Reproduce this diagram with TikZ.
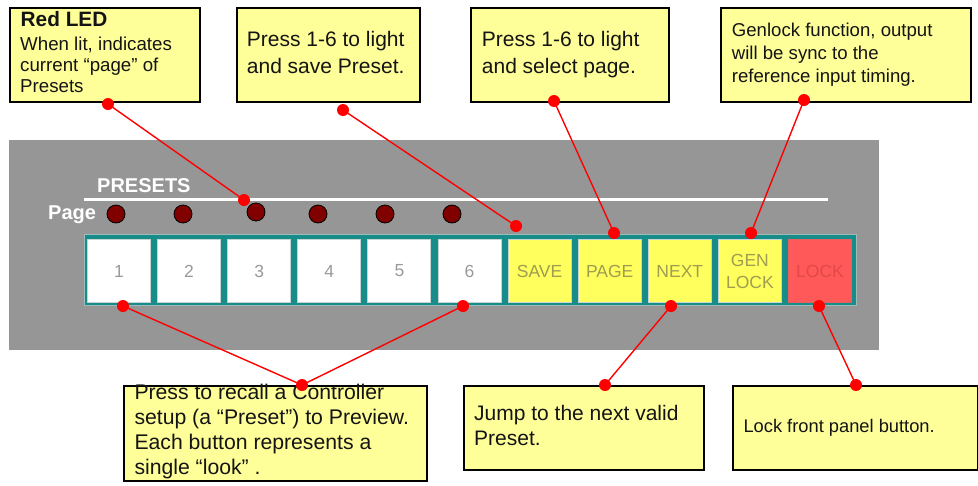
\documentclass[tikz,border=0pt]{standalone}
\usepackage{fontspec}
\setmainfont{Liberation Sans}
\usetikzlibrary{calc}
\definecolor{panelgray}{HTML}{969696}
\definecolor{noteyellow}{HTML}{FFFF99}
\definecolor{stripteal}{HTML}{178C88}
\definecolor{stripedge}{HTML}{9DBDBA}
\definecolor{ledred}{HTML}{800000}
\definecolor{btnyellow}{HTML}{FFFF5E}
\definecolor{btnred}{HTML}{FF5959}
\definecolor{olivetext}{HTML}{A09C50}
\definecolor{numgray}{HTML}{9A9A9A}
\definecolor{lockred}{HTML}{E24848}
\definecolor{btnedge}{HTML}{C8D4D2}
\definecolor{connred}{HTML}{FF0000}
\begin{document}
\begin{tikzpicture}[x=1pt,y=-1pt,
  note/.style={draw=black, line width=1.6pt, fill=noteyellow, inner sep=0pt, anchor=north west},
  notetext/.style={anchor=base west, align=left, inner sep=0pt, text=black!92},
  btnbox/.style={minimum width=63pt, minimum height=63pt, inner sep=0pt, draw=btnedge, line width=1pt},
  whitebtn/.style={btnbox, fill=white, text=numgray},
  yellowbtn/.style={btnbox, fill=btnyellow, text=olivetext},
  redbtn/.style={btnbox, fill=btnred, draw=btnred!80!gray, text=lockred},
  btnfont/.style={font=\fontsize{17.5}{21}\selectfont},
  led/.style={circle, minimum size=18pt, inner sep=0pt, fill=ledred, draw=black, line width=0.8pt},
  conn/.style={draw=connred, line width=1.4pt},
  dot/.style={fill=connred}
]
\useasboundingbox (0,0) rectangle (978,485);

% ---------- panel ----------
\node[fill=panelgray, minimum width=870pt, minimum height=210pt, inner sep=0pt, anchor=north west] (panel) at (9,140) {};
\draw[white, line width=3pt] (84,199) -- (828,199);
\node[anchor=base west, inner sep=0pt, text=white, font=\bfseries\fontsize{20}{24}\selectfont] (presets) at (97,192) {PRESETS};
\node[anchor=base west, inner sep=0pt, text=white, font=\bfseries\fontsize{20}{24}\selectfont] (page) at (48,219) {Page};

% LEDs
\node[led] (l1) at (116,214) {};
\node[led] (l2) at (183,214) {};
\node[led] (l3) at (256,212) {};
\node[led] (l4) at (318,214) {};
\node[led] (l5) at (385,214) {};
\node[led] (l6) at (452,214) {};

% button strip
\node[fill=stripteal, draw=stripedge, line width=1pt, minimum width=772pt, minimum height=71pt, inner sep=0pt, anchor=north west] (strip) at (84,234) {};

\node[whitebtn, btnfont] (b1) at (119.0,271) {1};
\node[whitebtn, btnfont] (b2) at (189.1,271) {2};
\node[whitebtn, btnfont] (b3) at (259.2,271) {3};
\node[whitebtn, btnfont] (b4) at (329.3,271) {4};
\node[whitebtn, btnfont] (b5) at (399.4,271) {5};
\node[whitebtn, btnfont] (b6) at (469.5,271) {6};
\node[yellowbtn, btnfont] (b7) at (539.6,271) {SAVE};
\node[yellowbtn, btnfont] (b8) at (609.7,271) {PAGE};
\node[yellowbtn, btnfont] (b9) at (679.8,271) {NEXT};
\node[yellowbtn, font=\fontsize{17.5}{22}\selectfont, align=center] (b10) at (749.9,271) {GEN\\LOCK};
\node[redbtn, btnfont] (b11) at (820.0,271) {LOCK};

% ---------- notes ----------
% (for multi-line texts the base anchor is the baseline of the last line)
\node[note, minimum width=190pt, minimum height=94pt] (n1) at (9,7) {};
\node[notetext, font=\bfseries\fontsize{20.8}{24}\selectfont] (t1a) at (20.5,26) {Red LED};
\node[notetext, font=\fontsize{18.7}{21.4}\selectfont] (t1b) at (20,92.8) {When lit, indicates\\current “page” of\\Presets};

\node[note, minimum width=183pt, minimum height=94pt] (n2) at (236,7) {};
\node[notetext, font=\fontsize{21}{26.3}\selectfont] (t2) at (246.7,73) {Press 1-6 to light\\and save Preset.};

\node[note, minimum width=198pt, minimum height=94pt] (n3) at (470,7) {};
\node[notetext, font=\fontsize{21}{26.3}\selectfont] (t3) at (481.7,73) {Press 1-6 to light\\and select page.};

\node[note, minimum width=250pt, minimum height=94pt] (n4) at (720,7) {};
\node[notetext, font=\fontsize{18.6}{23}\selectfont] (t4) at (731.7,82.7) {Genlock function, output\\will be sync to the\\reference input timing.};

\node[note, minimum width=303pt, minimum height=95pt] (n5) at (123,385) {};
\node[notetext, font=\fontsize{21.2}{24.7}\selectfont] (t5) at (134.3,474) {Press to recall a Controller\\setup (a “Preset”) to Preview.\\Each button represents a\\single “look” .};

\node[note, minimum width=240pt, minimum height=84pt] (n6) at (463,385) {};
\node[notetext, font=\fontsize{21}{25}\selectfont] (t6) at (474,445) {Jump to the next valid\\Preset.};

\node[note, minimum width=245pt, minimum height=84pt] (n7) at (732,385) {};
\node[notetext, font=\fontsize{18.3}{22}\selectfont] (t7) at (743.3,432.7) {Lock front panel button.};

% ---------- connector end points ----------
\coordinate (p1a) at (108,104);  \coordinate (p1b) at (244,200);
\coordinate (p2a) at (343,110);  \coordinate (p2b) at (516,226);
\coordinate (p3a) at (554,101);  \coordinate (p3b) at (614,233);
\coordinate (p4a) at (804,100);  \coordinate (p4b) at (751,233);
\coordinate (p5a) at (123,306);  \coordinate (p6a) at (463,306);
\coordinate (p56) at (302,385);
\coordinate (p7a) at (671,306);  \coordinate (p7b) at (605,385);
\coordinate (p8a) at (819,306);  \coordinate (p8b) at (856,385);

\draw[conn] (p1a) -- (p1b);
\draw[conn] (p2a) -- (p2b);
\draw[conn] (p3a) -- (p3b);
\draw[conn] (p4a) -- (p4b);
\draw[conn] (p5a) -- (p56);
\draw[conn] (p6a) -- (p56);
\draw[conn] (p7a) -- (p7b);
\draw[conn] (p8a) -- (p8b);

\foreach \p in {p1a,p1b,p2a,p2b,p3a,p3b,p4a,p4b,p5a,p6a,p56,p7a,p7b,p8a,p8b}
  \fill[dot] (\p) circle (6pt);
\end{tikzpicture}
\end{document}
